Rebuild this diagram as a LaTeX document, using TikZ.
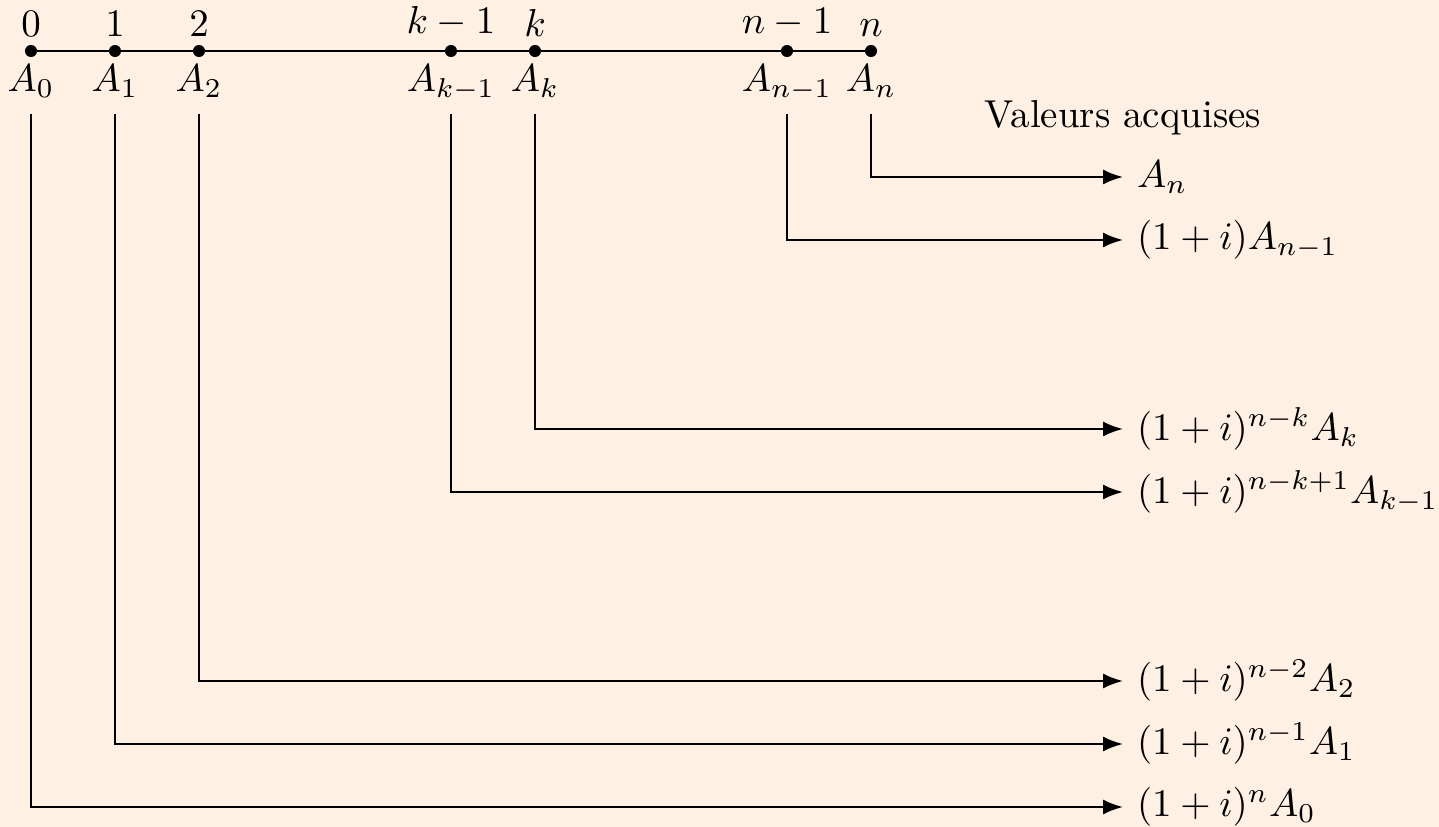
\documentclass[tikz,border=0pt]{standalone}
\usetikzlibrary{arrows.meta}
\definecolor{paper}{RGB}{254,241,228}
\begin{document}
\begin{tikzpicture}[x=22pt,y=22pt,line width=0.55pt,
  every node/.append style={scale=1.02},
  dot/.style={circle,fill=black,inner sep=0pt,minimum size=3.1pt},
  arr/.style={-{Latex[length=5.2pt,width=3.9pt]}},
  val/.style={right}]
  % background and frame of the picture
  \fill[paper] (-0.369,0.607) rectangle (16.762,-9.238);
  \useasboundingbox (-0.369,0.607) rectangle (16.762,-9.238);

  % time axis
  \foreach \n/\x in {0/0,1/1,2/2,km/5,k/6,nm/9,n/10}
    \coordinate (p\n) at (\x,0);
  \draw (p0) -- (pn);
  \foreach \n in {0,1,2,km,k,nm,n}
    \node[dot] (d\n) at (p\n) {};

  % dates above the axis
  \node[above] (t0)  at (p0)  {$0$};
  \node[above] (t1)  at (p1)  {$1$};
  \node[above] (t2)  at (p2)  {$2$};
  \node[above] (tkm) at (pkm) {$k-1$};
  \node[above] (tk)  at (pk)  {$k$};
  \node[above] (tnm) at (pnm) {$n-1$};
  \node[above] (tn)  at (pn)  {$n$};

  % payments below the axis
  \node[below] (a0)  at (p0)  {$A_0$};
  \node[below] (a1)  at (p1)  {$A_1$};
  \node[below] (a2)  at (p2)  {$A_2$};
  \node[below] (akm) at (pkm) {$A_{k-1}$};
  \node[below] (ak)  at (pk)  {$A_k$};
  \node[below] (anm) at (pnm) {$A_{n-1}$};
  \node[below] (an)  at (pn)  {$A_n$};

  % start of each leader line
  \foreach \n/\x in {0/0,1/1,2/2,km/5,k/6,nm/9,n/10}
    \coordinate (s\n) at (\x,-0.75);

  \node (title) at (13,-0.80) {Valeurs acquises};

  % accumulated values at date n
  \node[val] (rn)  at (13,-1.5)  {$A_n$};
  \node[val] (rnm) at (13,-2.25) {$(1+i)A_{n-1}$};
  \node[val] (rk)  at (13,-4.5)  {$(1+i)^{n-k}A_k$};
  \node[val] (rkm) at (13,-5.25) {$(1+i)^{n-k+1}A_{k-1}$};
  \node[val] (r2)  at (13,-7.5)  {$(1+i)^{n-2}A_2$};
  \node[val] (r1)  at (13,-8.25) {$(1+i)^{n-1}A_1$};
  \node[val] (r0)  at (13,-9)    {$(1+i)^nA_0$};

  % leader lines
  \foreach \n in {0,1,2,km,k,nm,n}
    \draw[arr] (s\n) |- (r\n.west);
\end{tikzpicture}
\end{document}
